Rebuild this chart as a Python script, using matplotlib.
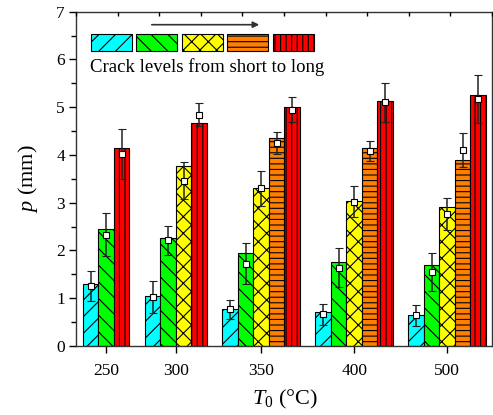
import numpy as np
import matplotlib
matplotlib.use("Agg")
import matplotlib.pyplot as plt
from matplotlib.patches import Rectangle

plt.rcParams['font.family'] = ['Liberation Serif', 'DejaVu Serif']
plt.rcParams['mathtext.fontset'] = 'custom'
plt.rcParams['mathtext.rm'] = 'Liberation Serif'
plt.rcParams['mathtext.it'] = 'Liberation Serif:italic'
plt.rcParams['hatch.linewidth'] = 0.8

nan = np.nan
categories = ['250', '300', '350', '400', '500']
level_names = ['L1', 'L2', 'L3', 'L4', 'L5']

# bar heights
cyan_h   = [1.30, 1.05, 0.78, 0.72, 0.65]
green_h  = [2.46, 2.27, 1.95, 1.75, 1.69]
yellow_h = [nan, 3.76, 3.31, 3.04, 2.92]
orange_h = [nan, nan, 4.35, 4.15, 3.90]
red_h    = [4.15, 4.67, 5.00, 5.13, 5.26]

# marker (mean) values
cyan_m   = [1.26, 1.03, 0.77, 0.66, 0.64]
green_m  = [2.33, 2.21, 1.72, 1.64, 1.55]
yellow_m = [nan, 3.46, 3.30, 3.02, 2.76]
orange_m = [nan, nan, 4.25, 4.09, 4.10]
red_m    = [4.02, 4.84, 4.95, 5.10, 5.17]

# error half-widths
cyan_e   = [0.31, 0.33, 0.20, 0.22, 0.22]
green_e  = [0.45, 0.31, 0.43, 0.41, 0.39]
yellow_e = [nan, 0.39, 0.37, 0.32, 0.34]
orange_e = [nan, nan, 0.24, 0.21, 0.35]
red_e    = [0.52, 0.24, 0.26, 0.40, 0.50]

heights = [cyan_h, green_h, yellow_h, orange_h, red_h]
means = [cyan_m, green_m, yellow_m, orange_m, red_m]
errs = [cyan_e, green_e, yellow_e, orange_e, red_e]
colors = ['#00FFFF', '#00FF00', '#FFFF00', '#FF8000', '#FF0000']
hatches = ['//', '\\\\', 'xx', '---', '|||']

W, H = 493, 415
fig = plt.figure(figsize=(W / 100, H / 100), dpi=100)
L, R, T, B = 76, 492, 11.7, 346
ax = fig.add_axes([L / W, (H - B) / H, (R - L) / W, (B - T) / H])

pos = 0.0
centers = []
for gi in range(len(categories)):
    start = pos
    for li in range(5):
        h = heights[li][gi]
        if np.isnan(h):
            continue
        x = pos + 0.5
        ax.bar(x, h, width=1.0, color=colors[li], edgecolor='black',
               hatch=hatches[li], linewidth=0.8, zorder=2)
        ax.errorbar(x, means[li][gi], yerr=errs[li][gi], fmt='s',
                    mfc='white', mec='black', mew=0.8, ms=4.5,
                    ecolor='#222222', elinewidth=1.1, capsize=2.6,
                    capthick=1.1, zorder=3)
        pos += 1
    centers.append((start + pos) / 2)
    pos += 1
last = pos - 1

ax.set_xlim(-0.45, last + 0.39)
ax.set_ylim(0, 7)
ax.set_xticks(centers)
ax.set_xticklabels(categories)
ax.set_yticks(range(8))
ax.set_yticks(np.arange(0.5, 7, 1.0), minor=True)
ax.tick_params(axis='both', which='major', direction='out', length=5,
               width=1, labelsize=12.5, pad=3, top=False, right=False)
ax.tick_params(axis='y', which='minor', direction='out', length=3.5, width=1)
ax.tick_params(axis='x', which='major', pad=7)
for s in ax.spines.values():
    s.set_linewidth(1.0)
    s.set_color('#333333')

ax2 = ax.twiny()
ax2.set_xlim(0, 10)
ax2.set_xticks(range(11))
ax2.tick_params(axis='x', direction='in', length=3, labeltop=False, top=True, width=1)
for s in ax2.spines.values():
    s.set_visible(False)

# legend-like annotation
def fx(px):
    return px / W

def fy(py):
    return 1 - py / H

box_x = [90.7, 136.3, 182.0, 227.3, 273.3]
for li in range(5):
    rect = Rectangle((fx(box_x[li]), fy(51)), 41 / W, 16.5 / H,
                     transform=fig.transFigure, facecolor=colors[li],
                     edgecolor='black', hatch=hatches[li], linewidth=0.8)
    fig.add_artist(rect)

fig.add_artist(matplotlib.patches.FancyArrowPatch(
    (fx(149), fy(24.7)), (fx(262), fy(24.7)), transform=fig.transFigure,
    arrowstyle='-|>', mutation_scale=9, color='#333333', lw=1.2))

fig.text(fx(90.5), fy(72), 'Crack levels from short to long', fontsize=13.5,
         ha='left', va='baseline')

fig.text(fx(28), fy(179), r'$\mathit{p}$ (mm)', fontsize=16, rotation=90,
         ha='center', va='center')
fig.text(fx(285), fy(399), r'$\mathit{T}_0$ (°C)', fontsize=16,
         ha='center', va='center')

fig.savefig('out.png', dpi=100)
